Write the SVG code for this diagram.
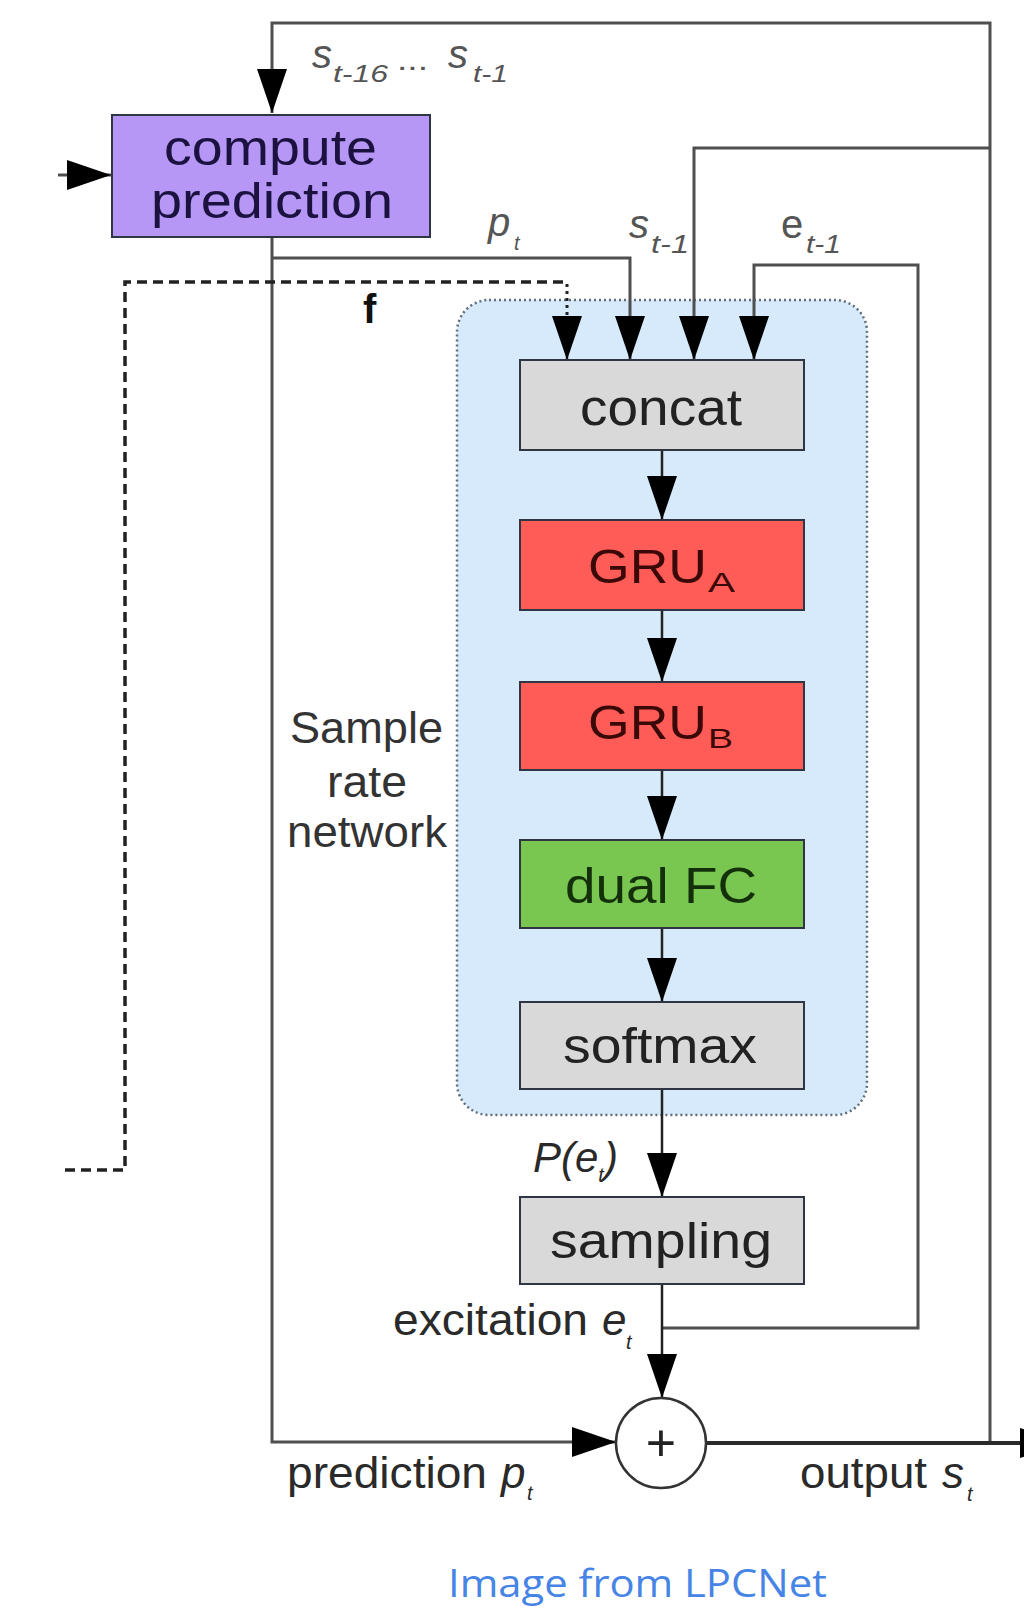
<svg xmlns="http://www.w3.org/2000/svg" width="1024" height="1609" viewBox="0 0 1024 1609">
  <style>
    .txt { font-family: "Liberation Sans", Arial, sans-serif; }
    .box { stroke: #2f3542; stroke-width: 2; }
    .wire { fill: none; stroke: #4f4f4f; stroke-width: 3; }
    .inner { fill: none; stroke: #222; stroke-width: 2.5; }
    .dash { fill: none; stroke: #222; stroke-width: 3.5; stroke-dasharray: 10 6; }
    .gray { fill: #d9d9d9; }
    .gru { fill: #ff5b57; }
    .fc { fill: #79c750; }
    .lab { fill: #555; }
    .side { fill: #333; }
    .math { fill: #2a2a2a; }
  </style>
  <defs>
    <marker id="arrow" markerUnits="userSpaceOnUse" viewBox="0 0 44 30" markerWidth="44" markerHeight="30" refX="44" refY="15" orient="auto">
      <path d="M0,0 L44,15 L0,30 Z" fill="#000"/>
    </marker>
  </defs>

  <rect width="1024" height="1609" fill="#fff"/>

  <!-- sample rate network region -->
  <g id="sample-rate-network" class="txt">
    <rect x="457" y="300" width="410" height="815" rx="32" fill="#d6eafb" stroke="#5f6d7c" stroke-width="2.5" stroke-dasharray="2 3"/>
    <text class="side" x="290" y="743" font-size="44" textLength="153" lengthAdjust="spacingAndGlyphs">Sample</text>
    <text class="side" x="327" y="797" font-size="44" textLength="80" lengthAdjust="spacingAndGlyphs">rate</text>
    <text class="side" x="287" y="847" font-size="44" textLength="160" lengthAdjust="spacingAndGlyphs">network</text>
  </g>

  <!-- connectors -->
  <g id="connectors">
    <!-- output history loop back into the predictor -->
    <path class="wire" d="M990,1443 V23 H272 V113" marker-end="url(#arrow)"/>
    <!-- external input to the predictor -->
    <path class="wire" d="M58,175 H111" marker-end="url(#arrow)"/>
    <!-- prediction path to the summing node -->
    <path class="wire" d="M272,237 V1442 H616" marker-end="url(#arrow)"/>
    <!-- p_t into concat -->
    <path class="wire" d="M272,258 H630 V360" marker-end="url(#arrow)"/>
    <!-- s_{t-1} into concat -->
    <path class="wire" d="M990,148 H694 V360" marker-end="url(#arrow)"/>
    <!-- e_{t-1} feedback into concat -->
    <path class="wire" d="M662,1328 H918 V265 H754 V360" marker-end="url(#arrow)"/>
    <!-- frame-rate features f -->
    <path class="dash" d="M65,1170 H125 V282 H567"/>
    <path fill="none" stroke="#222" stroke-width="3" stroke-dasharray="3 4" d="M567,284 V320"/>
    <path class="inner" d="M567,318 V360" marker-end="url(#arrow)"/>
    <!-- main column -->
    <path class="inner" d="M662,450 V520" marker-end="url(#arrow)"/>
    <path class="inner" d="M662,610 V682" marker-end="url(#arrow)"/>
    <path class="inner" d="M662,770 V840" marker-end="url(#arrow)"/>
    <path class="inner" d="M662,928 V1002" marker-end="url(#arrow)"/>
    <path class="inner" d="M662,1089 V1197" marker-end="url(#arrow)"/>
    <path class="inner" d="M662,1284 V1398" marker-end="url(#arrow)"/>
    <!-- output -->
    <path fill="none" stroke="#2a2a2a" stroke-width="4" d="M706,1443 H1064" marker-end="url(#arrow)"/>
  </g>

  <!-- connector labels -->
  <g id="labels" class="txt">
    <text class="lab" x="312" y="68" font-size="40" font-style="italic">s</text>
    <text class="lab" x="333" y="82" font-size="24" font-style="italic" textLength="55" lengthAdjust="spacingAndGlyphs">t-16</text>
    <text class="lab" x="397" y="70" font-size="30" textLength="31" lengthAdjust="spacingAndGlyphs">...</text>
    <text class="lab" x="448" y="68" font-size="40" font-style="italic">s</text>
    <text class="lab" x="473" y="82" font-size="24" font-style="italic" textLength="35" lengthAdjust="spacingAndGlyphs">t-1</text>

    <text class="lab" x="488" y="236" font-size="40" font-style="italic">p</text>
    <text class="lab" x="514" y="250" font-size="20" font-style="italic">t</text>
    <text class="lab" x="629" y="238" font-size="40" font-style="italic">s</text>
    <text class="lab" x="651" y="253" font-size="26" font-style="italic" textLength="38" lengthAdjust="spacingAndGlyphs">t-1</text>
    <text class="lab" x="781" y="238" font-size="40">e</text>
    <text class="lab" x="806" y="253" font-size="26" font-style="italic" textLength="35" lengthAdjust="spacingAndGlyphs">t-1</text>

    <text x="363" y="323" font-size="40" font-weight="bold" fill="#111">f</text>

    <text class="math" x="533" y="1172" font-size="42" font-style="italic">P(e<tspan font-size="20" dy="10">t</tspan><tspan font-size="42" dy="-10">)</tspan></text>

    <text class="math" x="393" y="1335" font-size="44" textLength="195" lengthAdjust="spacingAndGlyphs">excitation</text>
    <text class="math" x="602" y="1335" font-size="44" font-style="italic">e</text>
    <text class="math" x="626" y="1349" font-size="20" font-style="italic">t</text>

    <text class="math" x="287" y="1488" font-size="44" textLength="200" lengthAdjust="spacingAndGlyphs">prediction</text>
    <text class="math" x="501" y="1488" font-size="44" font-style="italic">p</text>
    <text class="math" x="527" y="1500" font-size="20" font-style="italic">t</text>

    <text class="math" x="800" y="1488" font-size="44" textLength="127" lengthAdjust="spacingAndGlyphs">output</text>
    <text class="math" x="942" y="1488" font-size="44" font-style="italic">s</text>
    <text class="math" x="967" y="1501" font-size="20" font-style="italic">t</text>
  </g>

  <!-- nodes -->
  <g id="node-compute-prediction" class="txt">
    <rect class="box" x="112" y="115" width="318" height="122" fill="#b797f6" stroke="#3c2f63"/>
    <text x="164" y="165" font-size="50" fill="#1c1240" textLength="213" lengthAdjust="spacingAndGlyphs">compute</text>
    <text x="151" y="218" font-size="50" fill="#1c1240" textLength="242" lengthAdjust="spacingAndGlyphs">prediction</text>
  </g>

  <g id="node-concat" class="txt">
    <rect class="box gray" x="520" y="360" width="284" height="90"/>
    <text x="580" y="425" font-size="52" fill="#222" textLength="162" lengthAdjust="spacingAndGlyphs">concat</text>
  </g>

  <g id="node-gru-a" class="txt">
    <rect class="box gru" x="520" y="520" width="284" height="90"/>
    <text x="588" y="583" font-size="48" fill="#3a0806" textLength="119" lengthAdjust="spacingAndGlyphs">GRU</text>
    <text x="708" y="592" font-size="28" fill="#3a0806" textLength="27" lengthAdjust="spacingAndGlyphs">A</text>
  </g>

  <g id="node-gru-b" class="txt">
    <rect class="box gru" x="520" y="682" width="284" height="88"/>
    <text x="588" y="739" font-size="48" fill="#3a0806" textLength="119" lengthAdjust="spacingAndGlyphs">GRU</text>
    <text x="708" y="748" font-size="28" fill="#3a0806" textLength="25" lengthAdjust="spacingAndGlyphs">B</text>
  </g>

  <g id="node-dual-fc" class="txt">
    <rect class="box fc" x="520" y="840" width="284" height="88"/>
    <text x="565" y="903" font-size="50" fill="#13300b" textLength="192" lengthAdjust="spacingAndGlyphs">dual FC</text>
  </g>

  <g id="node-softmax" class="txt">
    <rect class="box gray" x="520" y="1002" width="284" height="87"/>
    <text x="563" y="1063" font-size="50" fill="#222" textLength="194" lengthAdjust="spacingAndGlyphs">softmax</text>
  </g>

  <g id="node-sampling" class="txt">
    <rect class="box gray" x="520" y="1197" width="284" height="87"/>
    <text x="550" y="1258" font-size="50" fill="#222" textLength="222" lengthAdjust="spacingAndGlyphs">sampling</text>
  </g>

  <g id="node-sum" class="txt">
    <circle cx="661" cy="1443" r="45" fill="#fff" stroke="#333" stroke-width="2.5"/>
    <text x="661" y="1461" font-size="52" fill="#222" text-anchor="middle">+</text>
  </g>

  <text x="448" y="1597" font-family="'Open Sans', 'Noto Sans', sans-serif" font-size="38" fill="#4684e6" textLength="379" lengthAdjust="spacingAndGlyphs">Image from LPCNet</text>
</svg>
